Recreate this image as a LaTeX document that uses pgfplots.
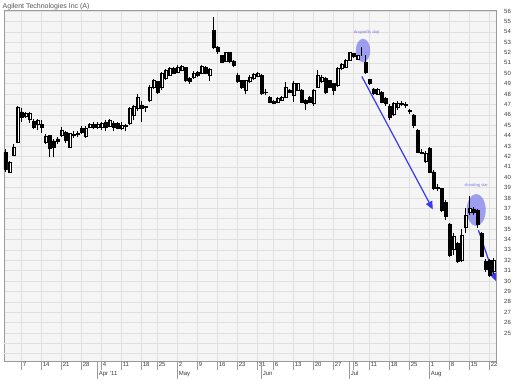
\documentclass[border=0pt]{standalone}
\usepackage{fontspec}
\setmainfont{Liberation Sans}
\newfontfamily\serifann{Liberation Serif}
\usepackage{pgfplots}
\pgfplotsset{compat=1.18}
\usepackage{pgfplotstable}
\usetikzlibrary{arrows.meta}
\definecolor{bgc}{HTML}{F5F5F5}
\definecolor{gridc}{HTML}{E0E0E0}
\definecolor{framec}{HTML}{9A9A9A}
\definecolor{labc}{HTML}{3A3A3A}
\definecolor{titc}{HTML}{555555}
\definecolor{annblue}{HTML}{3838F0}
\definecolor{annfill}{HTML}{7070F0}
\definecolor{anntext}{HTML}{7070D8}

\pgfplotstableread{
i o h l c
0 42.4 42.7 40.5 40.8
1 40.5 41.6 40.4 41.4
2 42.1 43.2 42.0 42.9
3 43.4 46.9 43.3 46.7
4 46.3 46.7 45.3 45.8
5 45.9 46.3 45.7 46.2
6 45.6 46.3 45.2 46.2
7 45.4 45.6 44.6 44.8
8 45.1 45.6 44.5 45.5
9 45.1 45.5 44.3 44.8
10 43.4 44.2 43.2 43.9
11 44.0 44.1 41.9 42.8
12 43.5 43.7 41.9 42.9
13 43.7 43.9 43.2 43.5
14 44.0 44.8 43.9 44.5
15 44.3 44.4 43.3 43.6
16 42.9 44.3 42.8 44.2
17 44.0 44.4 43.8 44.1
18 44.1 44.4 43.9 44.2
19 44.7 44.9 44.2 44.3
20 43.9 44.9 43.8 44.7
21 44.8 45.2 44.7 45.1
22 45.1 45.3 44.6 44.8
23 44.8 45.3 44.6 45.1
24 44.8 45.3 44.5 45.2
25 45.3 45.5 44.4 44.85
26 44.9 45.6 44.8 45.5
27 45.2 45.4 44.4 44.85
28 45.15 45.3 44.6 44.75
29 44.75 45.3 44.5 45.0
30 44.95 45.1 44.4 45.0
31 45.2 46.8 45.0 46.6
32 46.0 46.95 45.5 46.8
33 46.6 48.05 46.4 47.7
34 46.9 47.3 45.3 46.6
35 46.8 46.85 46.3 46.75
36 47.4 48.85 47.2 48.7
37 48.7 49.5 48.5 49.3
38 49.2 49.3 48.0 48.2
39 48.7 50.1 48.4 50.0
40 49.5 50.4 49.4 50.3
41 49.8 50.6 49.7 50.5
42 50.5 50.6 49.9 50.0
43 50.1 50.8 50.0 50.6
44 50.3 50.8 50.2 50.7
45 50.56 50.6 49.2 49.34
46 49.5 49.6 49.0 49.2
47 49.66 50.2 49.5 50.05
48 50.1 50.2 49.6 49.8
49 50.0 50.8 49.9 50.7
50 50.55 50.7 49.9 49.98
51 49.8 50.5 49.3 50.4
52 54.15 55.4 52.3 52.55
53 52.55 52.6 51.9 52.1
54 51.7 51.8 51.0 51.1
55 51.2 52.1 51.1 52.0
56 52.0 52.1 51.0 51.2
57 51.2 51.3 50.6 50.8
58 49.8 50.0 49.1 49.2
59 49.3 49.4 48.5 48.7
60 48.4 49.4 48.0 49.3
61 49.2 49.8 49.1 49.66
62 49.5 50.0 49.4 49.9
63 49.7 50.1 49.6 50.0
64 49.8 49.9 47.9 48.05
65 48.2 48.5 47.9 48.15
66 47.67 47.8 47.1 47.26
67 47.3 47.4 47.0 47.1
68 47.25 47.7 47.1 47.57
69 47.4 47.8 47.3 47.7
70 47.7 49.2 47.6 48.7
71 48.4 48.5 48.1 48.2
72 47.9 49.3 47.25 49.0
73 48.4 49.1 48.3 49.0
74 48.4 48.5 47.1 47.25
75 47.4 47.5 46.45 47.1
76 47.7 47.8 47.1 47.25
77 47.1 48.5 46.9 48.4
78 48.7 50.3 48.6 49.8
79 49.2 49.8 49.1 49.65
80 49.5 49.6 48.05 48.2
81 49.3 49.4 48.6 48.7
82 49.0 49.1 47.9 48.4
83 48.85 50.6 48.7 50.5
84 50.45 51.0 50.3 50.9
85 50.6 51.4 50.5 51.26
86 51.26 52.1 51.2 52.06
87 51.9 52.0 51.5 51.6
88 51.4 51.8 51.3 51.7
89 52.4 52.5 51.7 52.4
90 51.1 51.8 49.9 50.1
91 49.4 49.5 48.9 49.0
92 48.5 48.6 47.9 48.05
93 48.0 48.6 47.9 48.5
94 48.2 48.3 47.1 47.25
95 47.6 47.7 46.9 47.1
96 46.8 47.0 45.5 45.8
97 46.1 47.2 45.9 47.1
98 46.7 47.3 46.5 47.1
99 47.05 47.3 46.9 47.15
100 46.9 47.2 46.7 47.0
101 46.4 46.6 46.1 46.35
102 46.0 46.1 44.7 45.0
103 44.5 44.6 42.3 42.4
104 42.35 42.7 42.2 42.45
105 41.5 42.5 41.4 42.3
106 42.8 42.9 40.4 40.5
107 40.5 40.7 38.8 38.9
108 39.0 39.3 38.7 38.9
109 38.9 39.0 36.6 36.8
110 37.6 37.8 35.9 36.2
111 35.5 35.6 32.3 32.5
112 33.1 34.6 32.5 34.3
113 33.6 33.8 31.7 31.9
114 32.0 35.0 31.8 34.4
115 35.2 37.0 34.6 36.3
116 36.6 38.2 36.4 37.0
117 36.9 37.1 36.4 36.6
118 36.8 36.9 35.1 35.5
119 34.6 34.7 32.3 32.4
120 31.9 32.1 30.9 31.1
121 32.0 32.1 30.4 30.6
122 30.9 32.2 30.7 32.0
}\ohlc

\begin{document}
\begin{tikzpicture}
\begin{axis}[
  at={(4pt,29pt)}, anchor=south west,
  scale only axis, width=492pt, height=351pt,
  xmin=-0.35, xmax=122.65, ymin=22.3, ymax=56.1,
  enlargelimits=false,
  ybar stacked, bar width=0.7,
  axis background/.style={fill=bgc},
  axis line style={framec, line width=0.7pt},
  grid=major, grid style={gridc, line width=0.5pt},
  xtick={4,9,14,19,24,29,34,38,43,48,53,58,63,67,72,77,82,87,91,96,101,106,111,116,121},
  xticklabels={7,14,21,28,4,11,18,25,2,9,16,23,31,6,13,20,27,5,11,18,25,1,8,15,22},
  extra x ticks={23,43,64,86,106},
  extra x tick labels={Apr '11,May,Jun,Jul,Aug},
  extra x tick style={grid=none, major tick length=18pt},
  ytick={25,...,56},
  extra y ticks={23,24}, extra y tick labels={},
  extra y tick style={grid=major},
  xtick pos=bottom, ytick pos=right,
  tick align=outside, major tick length=9pt,
  xtick style={framec, line width=0.5pt},
  ytick style={draw=none},
  yticklabel pos=right,
  ticklabel style={font=\fontsize{6}{6}\selectfont, text=labc},
  xticklabel style={anchor=north west, inner sep=0pt, xshift=1.2pt, yshift=8pt},
  yticklabel style={anchor=west, inner sep=0pt, xshift=-1pt},
  /pgf/number format/assume math mode=true,
]
% wicks
\addplot [stack plots=false, only marks, mark=*, mark size=0pt,
  mark options={draw=none, fill=none},
  error bars/.cd, y dir=plus, y explicit, error mark=none,
  error bar style={black, line width=0.45pt}]
  table [x=i, y=l, y error expr={\thisrow{h}-\thisrow{l}}] {\ohlc};
% invisible base
\addplot [draw=none, fill=none] table [x=i, y expr={min(\thisrow{o},\thisrow{c})}] {\ohlc};
% white bodies
\addplot [fill=white, draw=black, line width=0.45pt] table [x=i, y expr={max(\thisrow{c}-\thisrow{o},0)}] {\ohlc};
% black bodies
\addplot [fill=black, draw=black, line width=0.45pt] table [x=i, y expr={max(\thisrow{o}-\thisrow{c},0)}] {\ohlc};
% annotations
\fill [annfill, fill opacity=0.65] (axis cs:89.4,52.2) ellipse [x radius=7.2pt, y radius=11.7pt];
\fill [annfill, fill opacity=0.65] (axis cs:117.7,36.84) ellipse [x radius=9.5pt, y radius=16pt];
\node [font=\serifann\fontsize{4.5}{5}\selectfont, text=anntext] at (axis cs:90.35,53.9) {dragonfly doji};
\node [font=\serifann\fontsize{4.5}{5}\selectfont, text=anntext] at (axis cs:117.7,39.25) {shooting star};
\draw [annblue, line width=1.2pt, -{Triangle[length=8pt,width=7pt]}] (axis cs:89.1,49.7) -- (axis cs:106.85,36.9);
\draw [annblue, line width=1.2pt, -{Triangle[length=8pt,width=7pt]}] (axis cs:118.25,34.9) -- (axis cs:122.6,30.0);
\end{axis}
\node [anchor=base west, inner sep=0pt, font=\fontsize{7}{8}\selectfont, text=titc] at (2.5pt,381.7pt) {Agilent Technologies Inc (A)};
\pgfresetboundingbox
\path [use as bounding box] (0,0) rectangle (520pt,390pt);
\end{tikzpicture}
\end{document}
